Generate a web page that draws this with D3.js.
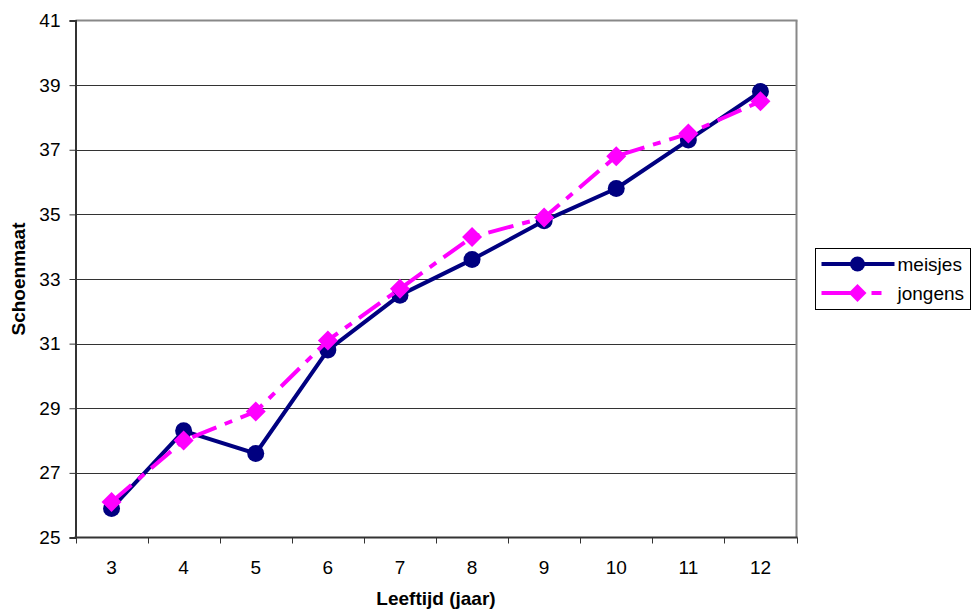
<!DOCTYPE html>
<html>
<head>
<meta charset="utf-8">
<script src="https://cdn.jsdelivr.net/npm/d3@7"></script>
<style>
  html, body { margin: 0; padding: 0; background: #fff; }
  svg { display: block; font-family: "Liberation Sans", Arial, sans-serif; }
</style>
</head>
<body>
<svg id="chart" width="972" height="610"></svg>
<script>
// Shoe size by age
const ages = ["3", "4", "5", "6", "7", "8", "9", "10", "11", "12"];
const meisjes = [25.9, 28.3, 27.6, 30.8, 32.5, 33.6, 34.8, 35.8, 37.3, 38.8];
const jongens = [26.1, 28.0, 28.9, 31.1, 32.7, 34.3, 34.9, 36.8, 37.5, 38.5];
const yTicks = [25, 27, 29, 31, 33, 35, 37, 39, 41];
const seriesNames = ["meisjes", "jongens"];

const FONT = "Liberation Sans, Arial, sans-serif";
const svg = d3.select("#chart");
const plot = { left: 75.5, right: 796.5, top: 20.5, bottom: 537.5 };

const x = d3.scaleBand().domain(ages).range([plot.left, plot.right]).padding(0);
const y = d3.scaleLinear().domain([25, 41]).range([plot.bottom, plot.top]);

// square diamond marker
const diamondPath = r => `M0,${-r}L${r},0L0,${r}L${-r},0Z`;

// horizontal gridlines
svg.append("g")
  .selectAll("line")
  .data(yTicks.filter(t => t > 25 && t < 41))
  .join("line")
  .attr("x1", plot.left).attr("x2", plot.right)
  .attr("y1", d => Math.round(y(d)) + 0.5).attr("y2", d => Math.round(y(d)) + 0.5)
  .attr("stroke", "#333").attr("stroke-width", 1);

// top and right frame
svg.append("line").attr("x1", plot.left).attr("x2", plot.right + 1)
  .attr("y1", plot.top).attr("y2", plot.top).attr("stroke", "#888").attr("stroke-width", 2);
svg.append("line").attr("x1", plot.right).attr("x2", plot.right)
  .attr("y1", plot.top).attr("y2", plot.bottom).attr("stroke", "#888").attr("stroke-width", 2);

// y axis
const yAxis = svg.append("g")
  .attr("transform", `translate(${plot.left},0)`)
  .call(d3.axisLeft(y).tickValues(yTicks).tickSize(6).tickPadding(9).tickFormat(d3.format("d")));
yAxis.attr("font-size", null).attr("font-family", null);
yAxis.select(".domain").attr("stroke", "#333").attr("stroke-width", 2);
yAxis.selectAll(".tick line").attr("stroke", "#333");
yAxis.selectAll(".tick text").style("font-size", "19px").attr("fill", "#000").style("font-family", FONT);

// x axis: ticks on band boundaries, labels centred in bands
const xAxisG = svg.append("g").attr("transform", `translate(0,${plot.bottom})`);
xAxisG.append("line").attr("x1", plot.left - 1).attr("x2", plot.right + 1)
  .attr("y1", 0).attr("y2", 0).attr("stroke", "#333").attr("stroke-width", 2);
const bounds = ages.map(a => x(a)).concat([x(ages[ages.length - 1]) + x.bandwidth()]);
xAxisG.selectAll("line.tk").data(bounds).join("line").attr("class", "tk")
  .attr("x1", d => Math.round(d) + 0.5).attr("x2", d => Math.round(d) + 0.5)
  .attr("y1", 0).attr("y2", 6).attr("stroke", "#333");
xAxisG.selectAll("text").data(ages).join("text")
  .attr("x", d => x(d) + x.bandwidth() / 2).attr("y", 36)
  .attr("text-anchor", "middle").style("font-size", "19px").attr("fill", "#000").text(d => d);

// axis titles
svg.append("text").attr("x", 436).attr("y", 605)
  .attr("text-anchor", "middle").style("font-size", "19px").attr("font-weight", "bold").text("Leeftijd (jaar)");
svg.append("text").attr("transform", `translate(25,${(plot.top + plot.bottom) / 2}) rotate(-90)`)
  .attr("text-anchor", "middle").style("font-size", "19px").attr("font-weight", "bold").text("Schoenmaat");

const cx = (d, i) => x(ages[i]) + x.bandwidth() / 2;
const line = d3.line().x((d, i) => cx(d, i)).y(d => y(d));

// meisjes series
svg.append("path").datum(meisjes).attr("d", line)
  .attr("fill", "none").attr("stroke", "#000080").attr("stroke-width", 4).attr("stroke-linejoin", "round");
svg.append("g").selectAll("circle").data(meisjes).join("circle")
  .attr("cx", cx).attr("cy", d => y(d)).attr("r", 8.5).attr("fill", "#000080");

// jongens series (long dash - short dash)
svg.append("path").datum(jongens).attr("d", line)
  .attr("fill", "none").attr("stroke", "#FF00FF").attr("stroke-width", 4).attr("stroke-dasharray", "26,9,8,9");
svg.append("g").selectAll("path").data(jongens).join("path")
  .attr("d", diamondPath(10)).attr("transform", (d, i) => `translate(${cx(d, i)},${y(d)})`).attr("fill", "#FF00FF");

// legend
const lg = svg.append("g").attr("transform", "translate(815.5,248.5)");
lg.append("rect").attr("width", 155).attr("height", 61).attr("fill", "#fff").attr("stroke", "#000").attr("stroke-width", 1);
const rows = [
  { name: seriesNames[0], color: "#000080", dash: null, marker: "circle" },
  { name: seriesNames[1], color: "#FF00FF", dash: "30,20,10,100", marker: "diamond" }
];
rows.forEach((r, i) => {
  const ry = 15.5 + i * 29;
  lg.append("line").attr("x1", 6).attr("x2", 79).attr("y1", ry).attr("y2", ry)
    .attr("stroke", r.color).attr("stroke-width", 4).attr("stroke-dasharray", r.dash);
  if (r.marker === "circle") {
    lg.append("circle").attr("cx", 42).attr("cy", ry).attr("r", 7.5).attr("fill", r.color);
  } else {
    lg.append("path").attr("d", diamondPath(9))
      .attr("transform", `translate(42,${ry})`).attr("fill", r.color);
  }
  lg.append("text").attr("x", 82).attr("y", ry + 7).style("font-size", "19px").attr("fill", "#000").text(r.name);
});
</script>
</body>
</html>
